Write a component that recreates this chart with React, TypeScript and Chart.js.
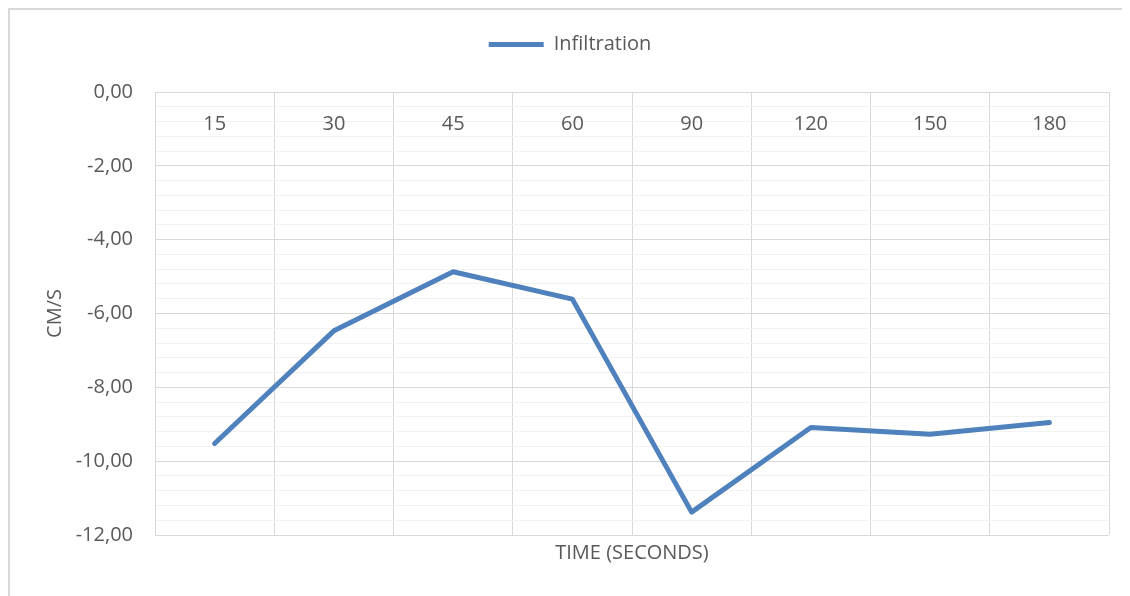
import React, { useEffect, useRef } from "react";
import { Chart, registerables } from "chart.js";

Chart.register(...registerables);

// Sampling times (seconds) along the category axis
const times: string[] = ["15", "30", "45", "60", "90", "120", "150", "180"];
// Infiltration rate (cm/s) at each time
const infiltration: number[] = [-9.52, -6.47, -4.87, -5.61, -11.38, -9.09, -9.27, -8.95];

const seriesLabel = "Infiltration";
const xTitle = "TIME (SECONDS)";
const yTitle = "CM/S";

const FONT = "'Open Sans', 'DejaVu Sans', sans-serif";
const FS = 20;
const TEXT = "#595959";
const MAJOR = "#d9d9d9";
const MINOR = "#f2f2f2";
const LINE = "#4f81bd";

const isMajor = (v: number) => Math.abs(v / 2 - Math.round(v / 2)) < 1e-6;

export default function App() {
  const canvasRef = useRef<HTMLCanvasElement | null>(null);

  useEffect(() => {
    // the chart frame runs off the right and bottom edges; keep the page from scrolling
    document.documentElement.style.overflow = "hidden";
    const canvas = canvasRef.current;
    if (!canvas) return;
    const chart = new Chart(canvas, {
      type: "line",
      data: {
        labels: times,
        datasets: [
          {
            label: seriesLabel,
            data: infiltration,
            xAxisID: "x",
            yAxisID: "y",
            borderColor: LINE,
            backgroundColor: LINE,
            borderWidth: 5,
            borderCapStyle: "round",
            borderJoinStyle: "round",
            pointRadius: 0,
            pointHoverRadius: 0,
            tension: 0,
            fill: false,
          },
        ],
      },
      options: {
        animation: false,
        responsive: false,
        maintainAspectRatio: false,
        layout: { padding: { top: 14.5, left: 0, right: 0, bottom: 0 } },
        plugins: {
          legend: {
            position: "top",
            labels: {
              usePointStyle: true,
              pointStyle: "line",
              pointStyleWidth: 55,
              padding: 10,
              color: TEXT,
              font: { family: FONT, size: FS },
            },
          },
          title: {
            display: true,
            position: "bottom",
            fullSize: false,
            text: xTitle,
            color: TEXT,
            font: { family: FONT, size: FS, weight: "normal" },
            padding: { top: 6, bottom: 31 },
          },
          tooltip: { enabled: false },
        },
        scales: {
          x: {
            type: "category",
            position: { y: 0 },
            offset: true,
            grid: {
              offset: true,
              color: MAJOR,
              lineWidth: 1,
              drawTicks: false,
            },
            border: { display: true, color: MAJOR },
            ticks: {
              color: TEXT,
              font: { family: FONT, size: FS },
              padding: 20,
              maxRotation: 0,
            },
          },
          // empty gap between the legend and the plot
          gapTop: {
            type: "category",
            axis: "x",
            position: "top",
            labels: [""],
            grid: { display: false },
            border: { display: false },
            ticks: { display: false },
            afterFit: (s: any) => {
              s.height = 27.5;
            },
          },
          // empty margin on the right of the plot
          gapRight: {
            type: "linear",
            axis: "y",
            position: "right",
            grid: { display: false },
            border: { display: false },
            ticks: { display: false },
            afterFit: (s: any) => {
              s.width = 21;
            },
          },
          y: {
            type: "linear",
            position: "left",
            min: -12,
            max: 0,
            ticks: {
              stepSize: 0.4,
              color: TEXT,
              font: { family: FONT, size: FS },
              padding: 22,
              autoSkip: false,
              callback: (v: any) => {
                const n = Number(v);
                return isMajor(n) ? n.toFixed(2).replace(".", ",") : "";
              },
            },
            grid: {
              drawTicks: false,
              color: (ctx: any) => (isMajor(ctx.tick.value) ? MAJOR : MINOR),
              lineWidth: 1,
            },
            border: { display: true, color: MAJOR },
            title: {
              display: true,
              text: yTitle,
              color: TEXT,
              font: { family: FONT, size: FS },
              padding: { top: 33, bottom: 0 },
            },
            afterFit: (s: any) => {
              s.width = 145;
            },
          },
        },
      },
    });
    return () => chart.destroy();
  }, []);

  return (
    <div
      style={{
        height: 588,
        marginRight: -8,
        borderTop: `2px solid ${MAJOR}`,
        borderLeft: `2px solid ${MAJOR}`,
        boxSizing: "border-box",
        background: "#fff",
        overflow: "hidden",
      }}
    >
      <canvas ref={canvasRef} width={1120} height={586} style={{ display: "block" }} />
    </div>
  );
}
